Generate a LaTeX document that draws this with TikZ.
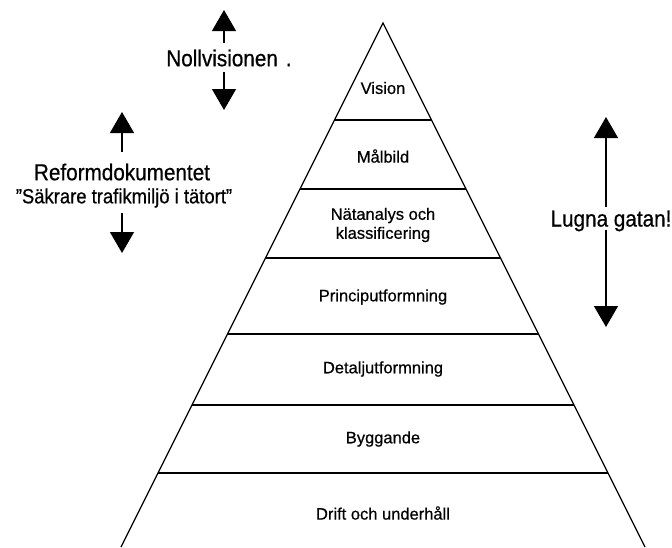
\documentclass[tikz,border=0pt]{standalone}
\usepackage{fontspec}
\setmainfont{Liberation Sans}[FakeBold=0.6]
\newfontfamily\condfont{Liberation Sans}[FakeStretch=0.9,FakeBold=0.6]
\usetikzlibrary{arrows.meta}
\begin{document}
\begin{tikzpicture}[x=1pt,y=-1pt,
  edge/.style={line width=1.2pt},
  lvl/.style={font=\fontsize{16.5}{19}\selectfont, align=center, inner sep=0pt},
  big/.style={font=\condfont\fontsize{23}{26}\selectfont, align=center, inner sep=0pt},
  arr/.style={line width=1.3pt, -{Triangle[width=24pt,length=21pt]}}]
\useasboundingbox (0,0) rectangle (672,547);
% pyramid
\coordinate (apex) at (383,23);
\coordinate (bl) at (121,547);
\coordinate (br) at (645,547);
\draw[edge] (bl) -- (apex) -- (br);
\foreach \y/\n in {120/a,189/b,258/c,334/d,405/e,473/f}{
  \pgfmathsetmacro{\h}{0.5*(\y-23)}
  \coordinate (L\n) at ({383-\h},\y);
  \coordinate (R\n) at ({383+\h},\y);
  \draw[edge] (L\n) -- (R\n);
}
\node[lvl] (vision) at (383,88) {Vision};
\node[lvl] (malbild) at (383,156) {Målbild};
\node[lvl] (natanalys) at (383,225) {Nätanalys och\\klassificering};
\node[lvl] (princip) at (383,297) {Principutformning};
\node[lvl] (detalj) at (383,369) {Detaljutformning};
\node[lvl] (bygg) at (383,439) {Byggande};
\node[lvl] (drift) at (383,513) {Drift och underhåll};
% Nollvisionen
\node[big, anchor=center] (noll) at (229,58) {Nollvisionen\hspace{8pt}.};
\coordinate (n1) at (224,43); \coordinate (n1t) at (224,10);
\coordinate (n2) at (224,72); \coordinate (n2t) at (224,110);
\draw[arr] (n1) -- (n1t);
\draw[arr] (n2) -- (n2t);
% Reformdokumentet
\node[big] (reform) at (122,172) {Reformdokumentet};
\node[font=\condfont\fontsize{20.5}{23}\selectfont, inner sep=0pt] (sak) at (124,198) {”Säkrare trafikmiljö i tätort”};
\coordinate (r1) at (122,152); \coordinate (r1t) at (122,112);
\coordinate (r2) at (122,213); \coordinate (r2t) at (122,253);
\draw[arr] (r1) -- (r1t);
\draw[arr] (r2) -- (r2t);
% Lugna gatan
\node[big] (lugna) at (611,221) {Lugna gatan!};
\coordinate (g1) at (606,207); \coordinate (g1t) at (606,117);
\coordinate (g2) at (606,230); \coordinate (g2t) at (606,327);
\draw[arr] (g1) -- (g1t);
\draw[arr] (g2) -- (g2t);
\end{tikzpicture}
\end{document}
